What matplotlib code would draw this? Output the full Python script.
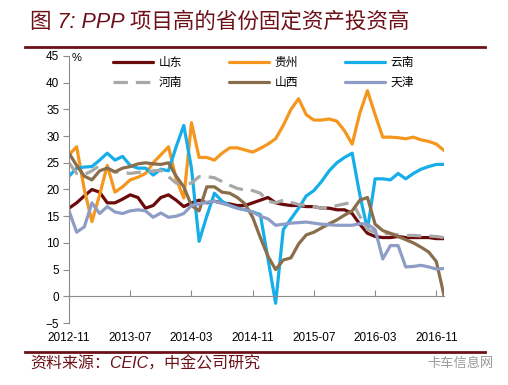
import numpy as np
import matplotlib.pyplot as plt
from matplotlib.lines import Line2D

plt.rcParams['font.family'] = ['Liberation Sans', 'Noto Sans CJK SC', 'DejaVu Sans']

# monthly data, 2012-11 .. 2016-12 (%)
shandong = [16.5, 17.5, 18.8, 20, 19.5, 17.5, 17.5, 18.2, 19, 18.5,
            16.5, 17, 18.5, 19, 18, 16.8, 17.5, 18, 17.5, 17.8,
            17.5, 17.3, 17, 17, 17.5, 18, 18.5, 17.5, 17.2, 17,
            17, 16.8, 16.8, 16.5, 16.5, 16.2, 16.2, 15.5, 13.5, 11.8,
            11.2, 11, 11, 11.2, 11, 11, 11, 11, 10.8, 10.8]
guizhou = [26.5, 28, 20, 14, 19, 24.5, 19.5, 20.5, 21.8, 22.3,
           23, 25, 26.5, 28, 22, 18.4, 32.5, 26, 26, 25.5,
           26.8, 27.8, 27.8, 27.4, 27, 27.7, 28.5, 29.5, 32, 35,
           37, 34, 33, 33, 33.2, 32.8, 31, 28.5, 34.3, 38.5,
           34, 29.8, 29.8, 29.7, 29.5, 29.8, 29.3, 29, 28.5, 27.3]
yunnan = [22.5, 24, 24.2, 24.3, 25.5, 26.8, 25.5, 26.2, 24.5, 24,
          24, 22.7, 23.8, 23.5, 28, 32, 24, 10.3, 15, 19.3,
          17.8, 17, 16.5, 16.2, 15.8, 15.3, 7, -1.3, 12.5, 14.5,
          16.5, 18.8, 19.8, 21.5, 23.5, 25, 26, 26.8, 19, 12.5,
          22, 22, 21.8, 23, 22, 23, 23.8, 24.3, 24.7, 24.7]
henan = [25, 23, 22.8, 23.5, 24.5, 24, 23.3, 23.2, 23, 23.2,
         23.3, 23.5, 23.6, 22.4, 21.2, 21, 21.2, 22.4, 22.4, 22.2,
         21.5, 20.8, 20.2, 19.9, 19.8, 19.3, 17.8, 17.5, 18, 17.6,
         17.2, 17, 16.8, 16.5, 16.5, 17, 17.3, 17.6, 15, 12.5,
         12, 11.8, 11.7, 11.5, 11.4, 11.4, 11.3, 11.3, 11.2, 11]
shanxi = [26.8, 24.5, 22.5, 21.8, 23.5, 24, 23.3, 24, 24.3, 24.8,
          25, 24.8, 24.7, 25, 22.5, 20.5, 17, 16, 20.5, 20.5,
          19.5, 19.3, 18.5, 17.3, 14.8, 11, 7.5, 5, 6.8, 7.2,
          9.8, 11.5, 12, 12.8, 13.6, 14.3, 15.2, 16, 18, 18.5,
          13.5, 12.3, 11.8, 11.2, 10.6, 10, 9.2, 8.3, 6.5, 0.2]
tianjin = [16, 12, 13, 17.5, 15.5, 16.8, 15.8, 15.5, 16, 16.2,
           16, 14.8, 15.6, 14.8, 15, 15.5, 17, 17.3, 17.6, 17.8,
           17.4, 17, 16.5, 16.2, 15.8, 15, 14.5, 13.3, 13.5, 13.7,
           13.8, 13.9, 13.7, 13.5, 13.4, 13.3, 13.3, 13.3, 13.6, 13.5,
           12.5, 7, 9.5, 9.5, 5.5, 5.6, 5.8, 5.5, 5.1, 5.2]

tick_pos = [0, 8, 16, 24, 32, 40, 48]
tick_labels = ['2012-11', '2013-07', '2014-03', '2014-11', '2015-07', '2016-03', '2016-11']

maroon = '#6E1018'
series = [
    ('山东', shandong, '#6B0A0A', '-'),
    ('贵州', guizhou, '#F5961E', '-'),
    ('云南', yunnan, '#16AEE8', '-'),
    ('河南', henan, '#A8A8A8', (0, (4.5, 2.5))),
    ('山西', shanxi, '#8A6E4C', '-'),
    ('天津', tianjin, '#8E9DC6', '-'),
]

fig = plt.figure(figsize=(5.08, 3.85), dpi=100)
ax = fig.add_axes([69 / 508, 1 - 323 / 385, (444 - 69) / 508, (323 - 56) / 385])

x = np.arange(len(shandong))
handles = {}
for name, vals, col, ls in series:
    h, = ax.plot(x, vals, color=col, lw=2.3, ls=ls, label=name,
                 solid_joinstyle='round', solid_capstyle='round')
    handles[name] = h

ax.set_xlim(0, len(shandong) - 1)
ax.set_ylim(-5, 45)
ax.set_yticks(range(-5, 46, 5))
ax.set_xticks(tick_pos)
ax.set_xticklabels(tick_labels)

for s in ['top', 'right']:
    ax.spines[s].set_visible(False)
ax.spines['bottom'].set_position(('data', 0))
ax.spines['bottom'].set_color('#8C8C8C')
ax.spines['left'].set_color('#8C8C8C')
ax.tick_params(axis='x', direction='in', length=4, color='#8C8C8C', pad=26, labelsize=8.5)
ax.tick_params(axis='y', direction='out', length=4, color='#8C8C8C', labelsize=8.5, pad=3)

order = ['山东', '河南', '贵州', '山西', '云南', '天津']
fig.legend([handles[k] for k in order], order, ncol=3, frameon=False,
           loc='upper left', bbox_to_anchor=(113 / 508, 1 - 56 / 385),
           prop={'family': ['Noto Sans CJK SC'], 'size': 8.5},
           handlelength=3.4, handletextpad=0.45, columnspacing=4.0,
           labelspacing=0.6, borderpad=0, borderaxespad=0)

fig.text(72 / 508, 1 - 58 / 385, '%', fontsize=8, va='center', ha='left')

fig.text(30 / 508, 1 - 22 / 385, '图 7: PPP 项目高的省份固定资产投资高',
         fontsize=15.5, style='italic', color=maroon, va='center', ha='left')
fig.add_artist(Line2D([25 / 508, 485 / 508], [1 - 47 / 385] * 2, color=maroon, lw=2))
fig.add_artist(Line2D([25 / 508, 485 / 508], [1 - 352 / 385] * 2, color=maroon, lw=2))
fig.text(30 / 508, 1 - 364 / 385, '资料来源：CEIC，中金公司研究',
         fontsize=11.5, style='italic', color=maroon, va='center', ha='left')
fig.text(494 / 508, 1 - 363 / 385, '卡车信息网', fontsize=9.5, color='#9A9A9A',
         va='center', ha='right', family=['Noto Sans CJK SC'])

fig.savefig('out.png', dpi=100)
